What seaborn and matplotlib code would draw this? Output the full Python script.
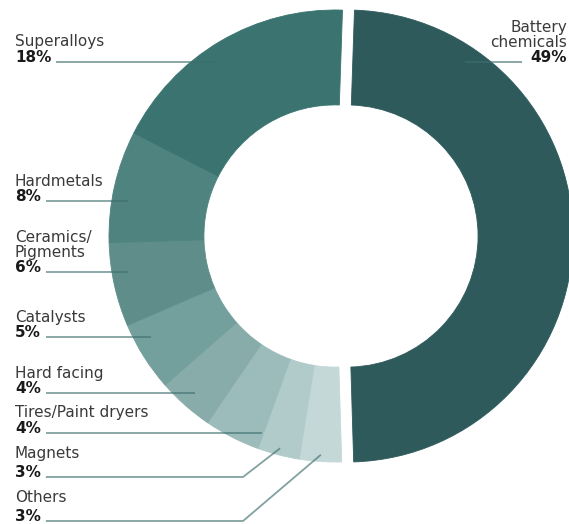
import matplotlib
matplotlib.use("Agg")
import matplotlib.pyplot as plt
import numpy as np
import seaborn as sns

# ── data (clockwise from 12 o'clock) ─────────────────────────────────
categories = ["Battery chemicals", "Others", "Magnets", "Tires/Paint dryers",
              "Hard facing", "Catalysts", "Ceramics/Pigments", "Hardmetals",
              "Superalloys"]
name_lines = [["Battery", "chemicals"], ["Others"], ["Magnets"],
              ["Tires/Paint dryers"], ["Hard facing"], ["Catalysts"],
              ["Ceramics/", "Pigments"], ["Hardmetals"], ["Superalloys"]]
shares = [49, 3, 3, 4, 4, 5, 6, 8, 18]
colors = ["#2e5a5c", "#c4d8d8", "#b1cbcb", "#9cbcbb", "#88acaa",
          "#739f9c", "#5f8e8a", "#4e8380", "#3a7370"]

# ── layout (pixels) ──────────────────────────────────────────────────
W, H = 569, 524
CX, CY, R = 335, 236, 226          # ring centre and outer radius
pct_baseline = [62, 521, 477, 433, 393, 337, 272, 201, 62]
name_gap = [15, 19, 19, 16, 15, 15, 15, 15, 16]
elbow = [None, 243, 243, None, None, None, None, None, None]
ANCHOR_R = 0.93

LINE_KW = dict(color="#3d6f6d", alpha=0.65, lw=1.3, solid_capstyle="butt")


def dx(px):
    return (px - CX) / R


def dy(py):
    return (CY - py) / R


sns.set_theme(style="white")
plt.rcParams["font.family"] = ["DejaVu Sans"]

fig = plt.figure(figsize=(W / 100, H / 100), dpi=100)
ax = fig.add_axes([0, 0, 1, 1])

# battery slice pulled out towards 3 o'clock
explode = [0.053] + [0] * (len(shares) - 1)
start = 89 - 0.5 * (90 - shares[0] / 100 * 180)
wedges, _ = ax.pie(shares, colors=colors, startangle=start, counterclock=False,
                   explode=explode, radius=1,
                   wedgeprops=dict(width=0.42, linewidth=0.6))
for w in wedges:
    w.set_edgecolor(w.get_facecolor())

ax.set_xlim(dx(0), dx(W))
ax.set_ylim(dy(H), dy(0))
ax.set_aspect("auto")
ax.axis("off")

fig.canvas.draw()
renderer = fig.canvas.get_renderer()

for i, lines in enumerate(name_lines):
    base = pct_baseline[i]
    right = i == 0
    x_txt = dx(567) if right else dx(15)
    ha = "right" if right else "left"

    # percentage (bold) with the name lines stacked above it
    pct = ax.text(x_txt, dy(base), f"{shares[i]}%", ha=ha, va="baseline",
                  fontsize=11, fontweight="bold", color="#1a1a1a")
    y = base - name_gap[i]
    for ln in reversed(lines):
        ax.text(x_txt, dy(y), ln, ha=ha, va="baseline", fontsize=11,
                color="#3a3a3a")
        y -= 15

    # leader line into the slice
    ly = dy(base)
    w = wedges[i]
    if elbow[i] is None:
        ax_x = np.sqrt(max(ANCHOR_R ** 2 - ly ** 2, 0))
        if right:
            mid = np.deg2rad((w.theta1 + w.theta2) / 2)
            x0, x1 = ax_x + explode[0] * np.cos(mid), dx(522)
        else:
            bb = pct.get_window_extent(renderer)
            x0, x1 = -ax_x, dx(bb.x1 + 5)
        ax.plot([x1, x0], [ly, ly], **LINE_KW)
    else:
        mid = np.deg2rad((w.theta1 + w.theta2) / 2)
        bb = pct.get_window_extent(renderer)
        ax.plot([dx(bb.x1 + 5), dx(elbow[i]), 0.97 * np.cos(mid)],
                [ly, ly, 0.97 * np.sin(mid)], **LINE_KW)

fig.savefig("out.png", dpi=100)
